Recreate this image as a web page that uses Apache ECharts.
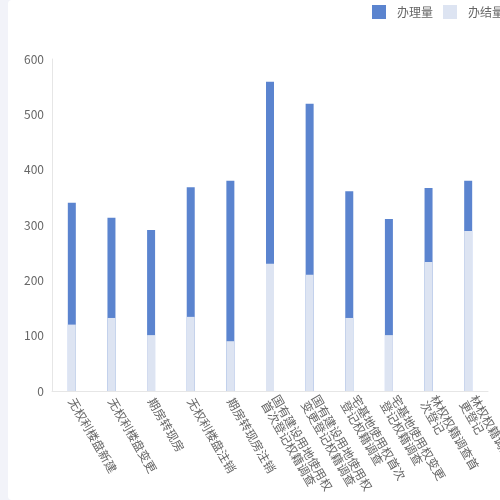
<!DOCTYPE html>
<html>
<head>
<meta charset="utf-8">
<script src="https://cdn.jsdelivr.net/npm/echarts@6/dist/echarts.min.js"></script>
<style>
  html, body { margin: 0; padding: 0; background: #f2f3f9; overflow: hidden; }
  #chart { position: absolute; left: 8px; top: 0; width: 500px; height: 500px; background: #fff; border-radius: 4px; }
</style>
</head>
<body>
<div id="chart"></div>
<script>
const categories = [
  '无权利楼盘新建',
  '无权利楼盘变更',
  '期房转现房',
  '无权利楼盘注销',
  '期房转现房注销',
  '国有建设用地使用权\n首次登记权籍调查',
  '国有建设用地使用权\n变更登记权籍调查',
  '宅基地使用权首次\n登记权籍调查',
  '宅基地使用权变更\n登记权籍调查',
  '林权权籍调查首\n次登记',
  '林权权籍调查变\n更登记'
];
const handledValues = [340, 313, 291, 368, 380, 559, 519, 361, 311, 367, 380];
const completedValues = [120, 132, 101, 134, 90, 230, 210, 132, 101, 233, 289];
const seriesNames = ['办理量', '办结量'];

const font = 'Noto Sans CJK SC';
const chart = echarts.init(document.getElementById('chart'));
chart.setOption({
  animation: false,
  textStyle: { fontFamily: font },
  legend: {
    data: seriesNames,
    left: 364,
    top: 5,
    padding: 0,
    itemWidth: 14,
    itemHeight: 14,
    itemGap: 10,
    icon: 'rect',
    textStyle: { fontSize: 12, color: '#666', fontFamily: font, padding: [0, 0, 0, 6] }
  },
  grid: { left: 44, right: 20, top: 59, bottom: 109, containLabel: false, outerBoundsMode: 'none' },
  xAxis: {
    type: 'category',
    data: categories,
    axisTick: { show: false },
    axisLine: { show: true, lineStyle: { color: '#e6e6e6' } },
    axisLabel: { interval: 0, rotate: -60, fontSize: 12, color: '#666', fontFamily: font, margin: 8 }
  },
  yAxis: {
    type: 'value',
    min: 0,
    max: 600,
    interval: 100,
    splitLine: { show: false },
    axisTick: { show: false },
    axisLine: { show: true, lineStyle: { color: '#e6e6e6' } },
    axisLabel: { fontSize: 12, color: '#666', fontFamily: font, margin: 8 }
  },
  series: [
    {
      name: seriesNames[0],
      type: 'bar',
      data: handledValues,
      barWidth: 8,
      barGap: '-100%',
      itemStyle: { color: '#5b84cf' }
    },
    {
      name: seriesNames[1],
      type: 'bar',
      data: completedValues,
      barWidth: 8,
      barGap: '-100%',
      itemStyle: { color: '#dde4f2' }
    }
  ]
});
</script>
</body>
</html>
